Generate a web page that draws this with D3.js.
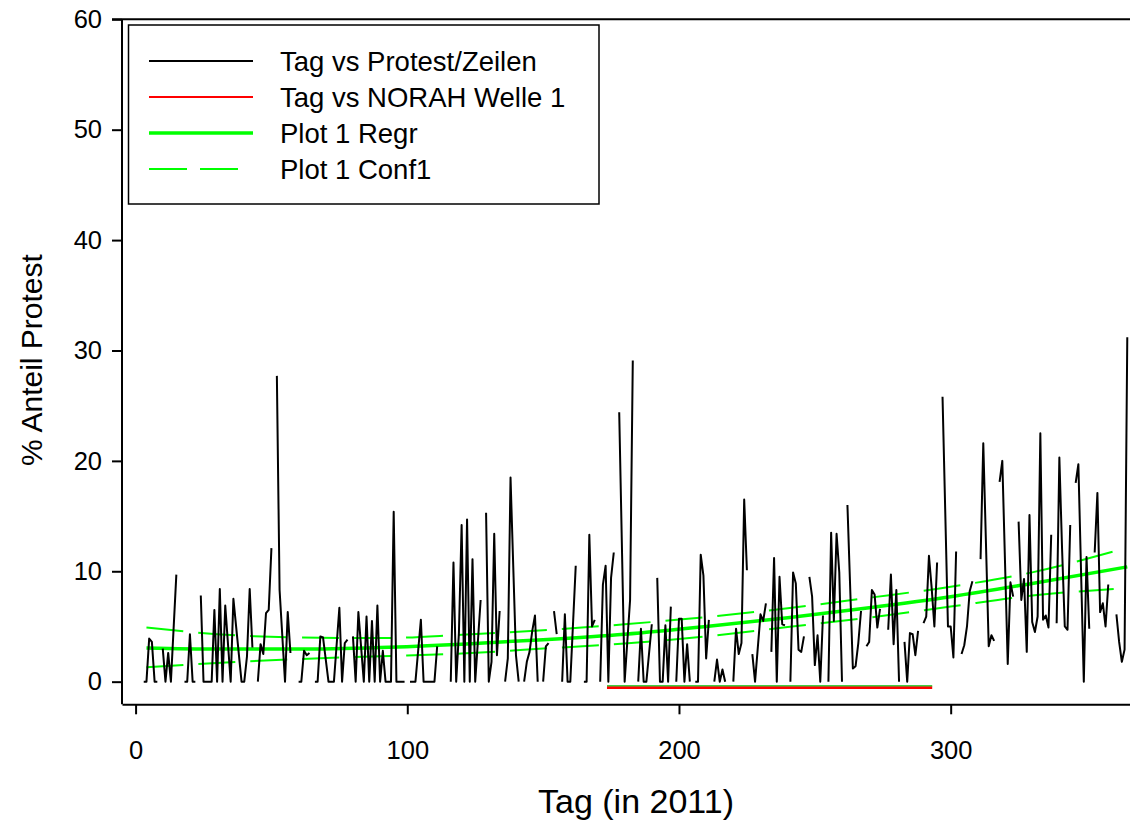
<!DOCTYPE html>
<html lang="de">
<head>
<meta charset="UTF-8">
<title>Tag vs Protest/Zeilen</title>
<script src="https://d3js.org/d3.v7.min.js"></script>
<style>
  body { margin: 0; background: #fff; }
  svg { display: block; font-family: "Liberation Sans", Arial, sans-serif; }
  .axis path, .axis line { stroke: #000; stroke-width: 2; }
  .axis text { font-size: 25.5px; fill: #000; }
</style>
</head>
<body>
<div id="chart"></div>
<script>
// Tag vs Protest/Zeilen (null = Tag ohne Wert -> Lücke)
const protestTag = [
  3,4,5,6,7,8,9, 10,11,12,13,15,16, 18,19,20,21,22,23,
  24,25,26,27,28,29,30,31,32,33,35,36,39,40,41,42,43,44,
  45,46,47,48,49,50,51, 52,53,55,56,57,58, 60,61,62,63,64,65,
  66,67,68,69,71,73,75,76,77,78,79,
  80,81,82,84,85,86,87,88,89,90,91,92,94,95,96,99,100,
  101,103,105,106,108,110,111,112,
  116,117,118,119,120,121,122,123,124,125,127,128,
  129,130,131,132,133,134,135, 136,137,138,140,141,142,
  143,144,145,146,147,148,149, 150,151,152,153, 154,155,156,
  157,158,159,160,162,163, 165,166,167,168,169,170,
  171,172,173,174,175,176,177, 178,180,182,183,184,
  185,186,187,188,190,191, 192,193,194,195,196,197,198,
  199,200,201,202,203,204,205, 206,207,208,209,210,211,212,
  213,214,215,216,217,218, 220,221,222,223,224,225,226,
  227,228,230,231,232,233, 234,235,236,237,238,239,240,
  241,242,243,244,245,246,247, 248,249,250,251,252,253,254,
  255,256,257,258,259,260,261, 262,264,265,266,267,268,
  269,270,271,272,273,274,275, 277,278,279,280,281,282,
  283,284,285,286,287,288,289, 290,291,292,293,294,295,296,
  297,299,300,301,302,303, 304,305,306,307,308,309,
  311,312,314,315,316,317, 318,319,321,322,323,324,
  325,326,327,328,329,330,331,332,333,334,335,336,337,338,
  339,340,341,342,343,344,345, 346,347,349,350,351,352,
  353,354,355,356,357,358,359, 361,362,363,364,365
];
const protestWert = [
  0,0,3.9,3.6,0,0,null, 3.0,0,2.6,0,9.7,null, 0,0,4.3,0,0,null,
  7.8,0,0,0,0,6.5,0,8.4,0,6.9,0,7.5,0,0,2.3,8.4,3.1,null,
  0,3.4,2.5,6.2,6.5,12.1,null, 27.7,8.3,0,6.3,2.6,null, 0,0,2.8,2.4,2.6,null,
  0,0,4.1,4.0,0,0,6.7,0,3.5,3.8,null,
  4.1,0,6.3,0,5.9,0,5.5,0,6.9,0,2.8,0,0,15.4,0,0,null,
  0,0,5.6,0,0,0,3.2,null,
  0,10.8,0,4.4,14.2,0,14.7,0,11.1,0,7.4,null,
  15.3,0,1.8,13.4,2.4,6.4,null, 0,2.1,18.5,2.4,0,null,
  0,1.8,2.7,4.6,6.0,0,null, 0,3.2,3.5,null, 6.4,4.3,null,
  0,6.1,0,0,10.5,null, 0,0,13.3,5.0,5.6,null,
  0,8.8,10.5,0,9.4,11.7,null, 24.4,0,7.4,29.1,null,
  0,4.8,0,0,5.2,null, 9.4,0,0,5.1,0,6.8,null,
  0,5.7,5.7,0,3.4,0,null, 0,0,11.5,9.6,2.1,5.6,null,
  0,2.0,0,1.1,0,null, 0,4.8,2.5,3.5,16.5,10.1,null,
  2.5,0,6.1,5.5,7.1,null, 2.7,11.2,0,9.5,5.2,5.1,null,
  0,9.9,8.9,2.9,2.7,4.1,null, 9.5,7.7,1.5,4.2,0,6.0,null,
  0,13.5,5.5,13.4,9.9,0,null, 16.0,1.2,1.4,3.5,6.4,null,
  3.2,3.6,8.3,7.9,4.9,6.6,null, 4.7,9.7,3.4,8.3,0,null,
  3.6,0,4.4,4.3,2.4,4.6,null, 5.3,5.9,11.4,8.5,5.0,10.8,null,
  25.8,5.0,5.0,2.2,11.8,null, 2.5,3.3,5.0,8.2,9.1,null,
  11.1,21.6,3.2,4.2,3.7,null, 18.1,20.0,1.6,9.0,7.7,null,
  14.5,7.4,9.3,2.7,15.1,5.4,4.5,5.9,22.5,5.6,6.0,4.9,13.3,null,
  5.3,20.3,12.0,5.0,4.7,14.2,null, 18.0,19.7,0,11.3,4.8,null,
  11.7,17.1,6.3,7.1,5.0,8.8,null, 6.1,3.6,1.8,2.9,31.2
];

// Tag vs NORAH Welle 1
const noraTag = [173.5, 293.2];
const noraWert = [-0.55, -0.55];
const noraGruen = [-0.4, -0.4];

// Plot 1 Regr / Conf1
const regrTag = [4, 30, 60, 90, 120, 150, 180, 210, 240, 270, 300, 330, 365];
const regrWert = [3.05, 2.95, 2.95, 3.1, 3.4, 3.8, 4.3, 5.0, 5.8, 6.7, 7.7, 8.9, 10.4];
const confTag = [4, 30, 60, 90, 120, 150, 180, 210, 240, 270, 300, 330, 360];
const confOben = [4.9, 4.3, 4.0, 3.95, 4.25, 4.65, 5.2, 5.85, 6.65, 7.6, 8.6, 9.9, 11.8];
const confUnten = [1.3, 1.7, 2.05, 2.3, 2.55, 3.0, 3.45, 4.1, 4.95, 5.8, 6.8, 7.8, 8.4];

const xTicks = [0, 100, 200, 300];
const yTicks = [0, 10, 20, 30, 40, 50, 60];

const legendItems = [
  { label: "Tag vs Protest/Zeilen", color: "#000000", width: 2, dash: null, end: 253 },
  { label: "Tag vs NORAH Welle 1", color: "#ff0000", width: 2, dash: null, end: 253 },
  { label: "Plot 1 Regr", color: "#00ff00", width: 3.5, dash: null, end: 253 },
  { label: "Plot 1 Conf1", color: "#00ff00", width: 2, dash: "38,13", end: 240 }
];

const width = 1130, height = 821;
const svg = d3.select("#chart").append("svg")
  .attr("width", width).attr("height", height);

const x = d3.scaleLinear().domain([-5, 366]).range([122, 1130]);
const y = d3.scaleLinear().domain([-2.05, 60]).range([704.3, 19.3]);

const zip = (xs, ys) => xs.map((d, i) => ({ x: d, y: ys[i] }));
const line = d3.line().defined(d => d.y != null).x(d => x(d.x)).y(d => y(d.y));
const smooth = d3.line().x(d => x(d.x)).y(d => y(d.y)).curve(d3.curveMonotoneX);

// Konfidenzband (gestrichelt) und Regression
[confOben, confUnten].forEach(vals => {
  svg.append("path")
    .attr("d", smooth(zip(confTag, vals)))
    .attr("fill", "none").attr("stroke", "#00ff00")
    .attr("stroke-width", 2).attr("stroke-dasharray", "37,15");
});
svg.append("path")
  .attr("d", smooth(zip(regrTag, regrWert)))
  .attr("fill", "none").attr("stroke", "#00ff00").attr("stroke-width", 3.5);

// Protest-Linie
svg.append("path")
  .attr("d", line(zip(protestTag, protestWert)))
  .attr("fill", "none").attr("stroke", "#000").attr("stroke-width", 2)
  .attr("stroke-linejoin", "round");

// NORAH Welle 1
svg.append("path")
  .attr("d", line(zip(noraTag, noraGruen)))
  .attr("fill", "none").attr("stroke", "#00c000").attr("stroke-width", 1.5);
svg.append("path")
  .attr("d", line(zip(noraTag, noraWert)))
  .attr("fill", "none").attr("stroke", "#ff0000").attr("stroke-width", 2.5);

// Achsen
svg.append("g").attr("class", "axis")
  .attr("transform", "translate(122,0)")
  .call(d3.axisLeft(y).tickValues(yTicks).tickSize(10).tickSizeOuter(0).tickPadding(10))
  .call(g => g.select(".domain").attr("d", `M0,${y(60)}V${y.range()[0]}`));

svg.append("g").attr("class", "axis")
  .attr("transform", `translate(0,${y.range()[0]})`)
  .call(d3.axisBottom(x).tickValues(xTicks).tickSize(10).tickSizeOuter(0).tickPadding(27));

svg.append("line")
  .attr("x1", 112).attr("x2", 1130)
  .attr("y1", y(60)).attr("y2", y(60))
  .attr("stroke", "#000").attr("stroke-width", 2);

// Achsentitel
svg.append("text")
  .attr("x", 636).attr("y", 813)
  .attr("text-anchor", "middle").style("font-size", "34px")
  .text("Tag (in 2011)");
svg.append("text")
  .attr("transform", "translate(42,360) rotate(-90)")
  .attr("text-anchor", "middle").style("font-size", "30px")
  .text("% Anteil Protest");

// Legende
const legend = svg.append("g");
legend.append("rect")
  .attr("x", 128.5).attr("y", 25).attr("width", 470.5).attr("height", 179)
  .attr("fill", "#fff").attr("stroke", "#000").attr("stroke-width", 1.5);
legendItems.forEach((d, i) => {
  const yy = 61 + i * 36;
  legend.append("line")
    .attr("x1", 149).attr("x2", d.end).attr("y1", yy).attr("y2", yy)
    .attr("stroke", d.color).attr("stroke-width", d.width)
    .attr("stroke-dasharray", d.dash);
  legend.append("text")
    .attr("x", 280).attr("y", yy).attr("dy", "0.36em")
    .style("font-size", "27.5px")
    .text(d.label);
});
</script>
</body>
</html>
